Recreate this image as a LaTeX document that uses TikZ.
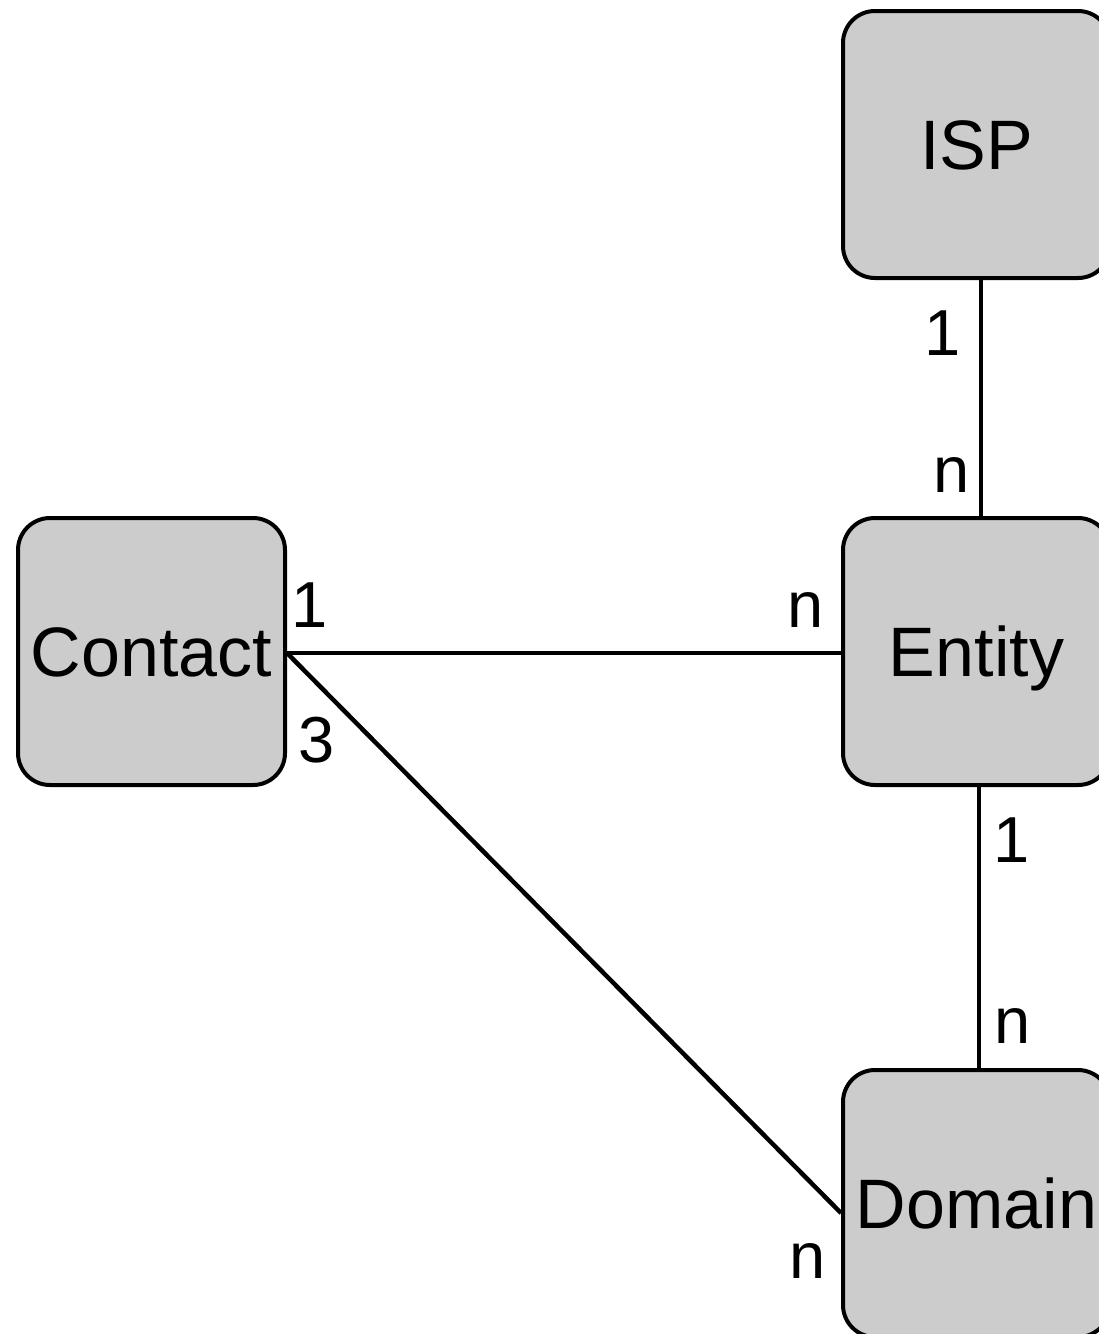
\documentclass[tikz,border=0pt]{standalone}
\usepackage{fontspec}
\setmainfont{Liberation Sans}
\definecolor{boxfill}{HTML}{CCCCCC}
\tikzset{
  entbox/.style={draw=black, line width=4pt, fill=boxfill, rounded corners=32pt,
    minimum width=267pt, minimum height=267pt, inner sep=0pt,
    font=\fontsize{70pt}{70pt}\selectfont, text height=50pt, text depth=0pt},
  card/.style={anchor=base, inner sep=0pt, font=\fontsize{65pt}{65pt}\selectfont},
  conn/.style={draw=black, line width=4.5pt}
}
\begin{document}
\begin{tikzpicture}[x=1pt, y=-1pt]
\useasboundingbox (0,0) rectangle (1099,1334);
\clip (0,0) rectangle (1099,1334);
\fill[white] (0,0) rectangle (1099,1334);
% boxes
\node[entbox] (isp) at (976.5,144.5) {ISP};
\node[entbox] (entity) at (976.5,651.5) {Entity};
\node[entbox] (contact) at (151.5,651.5) {Contact};
\node[entbox] (domain) at (976.5,1203.5) {Domain};
% connectors
\draw[conn] ([xshift=4.5pt]isp.south) -- ([xshift=4.5pt]entity.north);
\draw[conn] ([xshift=2.5pt]entity.south) -- ([xshift=2.5pt]domain.north);
\draw[conn] ([yshift=-1.5pt]contact.east) -- ([yshift=-1.5pt]entity.west);
\draw[conn] ([yshift=-1.5pt]contact.east) -- ([yshift=-9.5pt]domain.west);
% cardinalities
\node[card] (c1) at (943,355) {1};
\node[card] (c2) at (952,492) {n};
\node[card] (c3) at (310,627) {1};
\node[card] (c4) at (317,762) {3};
\node[card] (c5) at (806,627) {n};
\node[card] (c6) at (1012,862) {1};
\node[card] (c7) at (1013,1043) {n};
\node[card] (c8) at (808,1278) {n};
\end{tikzpicture}
\end{document}
